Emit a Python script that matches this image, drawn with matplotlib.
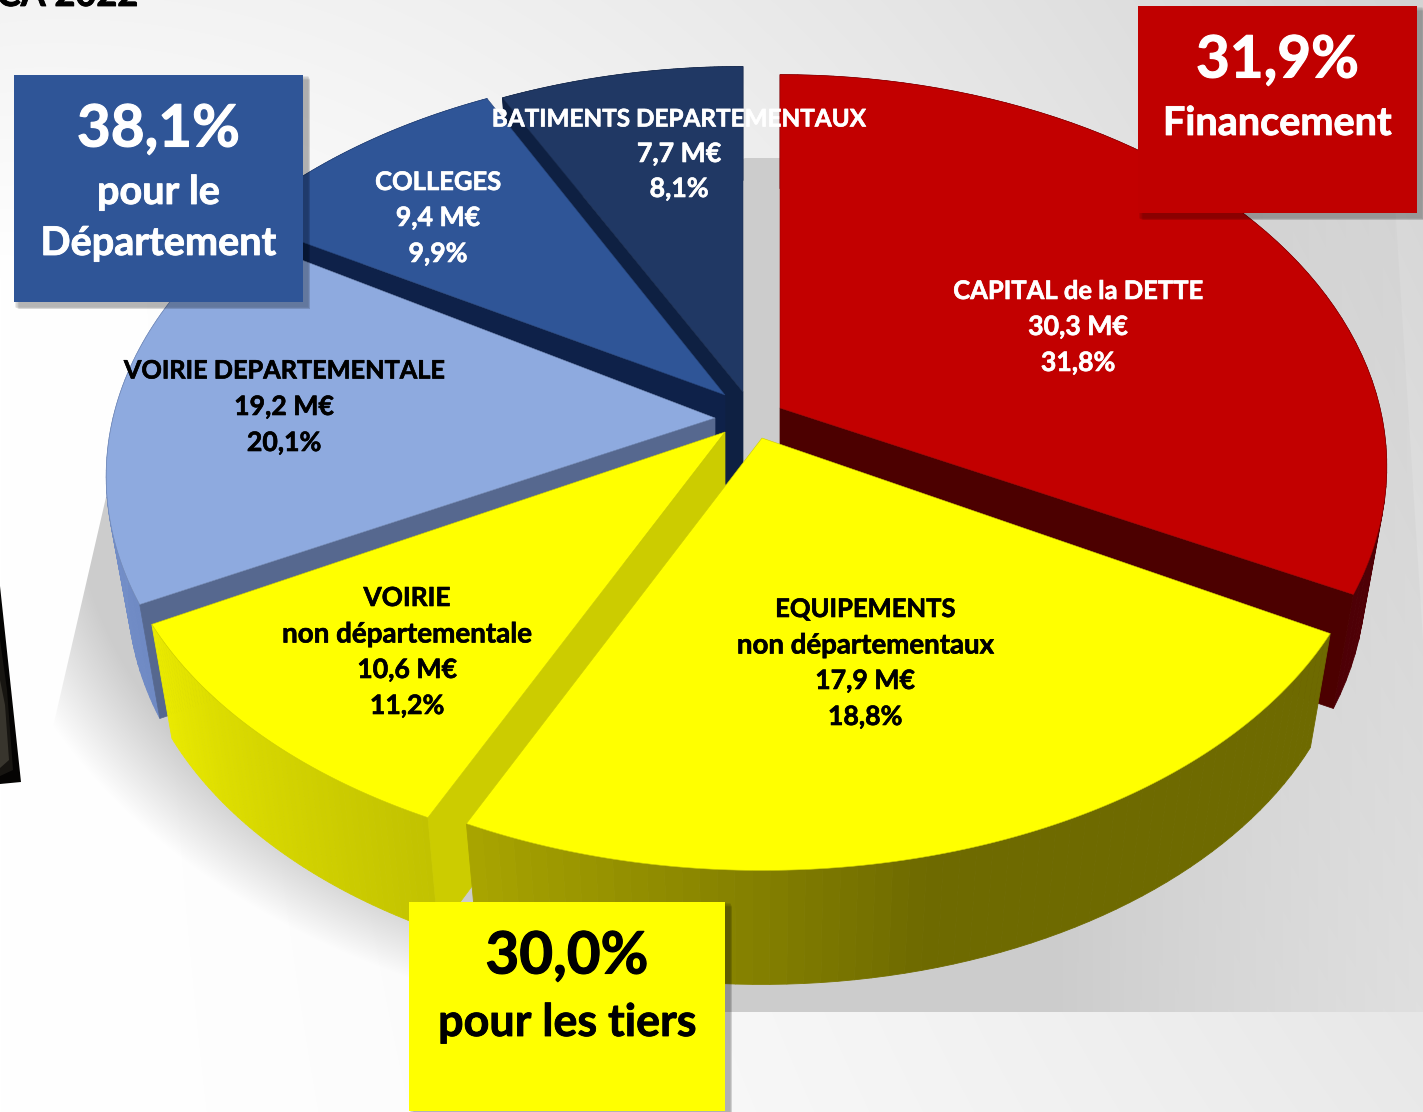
import numpy as np
import matplotlib
matplotlib.use("Agg")
import matplotlib.pyplot as plt
import matplotlib.patheffects as pe
from matplotlib.patches import Polygon, Rectangle

plt.rcParams['font.family'] = ['Lato', 'Open Sans', 'DejaVu Sans']

# ---- data ----
names = ["CAPITAL de la DETTE", "EQUIPEMENTS\nnon départementaux", "VOIRIE\nnon départementale",
         "VOIRIE DEPARTEMENTALE", "COLLEGES", "BATIMENTS DEPARTEMENTAUX"]
amounts = [30.3, 17.9, 10.6, 19.2, 9.4, 7.7]
percents = [31.8, 18.8, 11.2, 20.1, 9.9, 8.1]
# angular extent of each slice as drawn in the picture (degrees, clockwise from 12 o'clock);
# the picture's slices are not strictly proportional to the printed percentages
drawn_start = [0.0, 119.5, 205.0, 243.0, 300.0, 333.0]
drawn_end = [117.0, 205.0, 241.0, 301.0, 333.3, 360.0]
group_shares = [38.1, 31.9, 30.0]
group_names = ["pour le\nDépartement", "Financement", "pour les tiers"]
title_text = "CA 2022"

W, H = 1423, 1112
fig = plt.figure(figsize=(W / 100, H / 100), dpi=100)
ax = fig.add_axes([0, 0, 1, 1])
ax.set_axis_off()

# ---- background ----
yy, xx = np.mgrid[0:H, 0:W]
fx, fy = xx / W, yy / H
bg = 255 - 44 * fx ** 1.6 * (1 - 0.5 * fy) - 12 * (1 - fx) * np.clip(1 - fy / 0.25, 0, 1)
ax.imshow(np.dstack([bg, bg, bg]).astype(np.uint8), extent=(0, W, H, 0), aspect='auto',
          interpolation='bilinear', zorder=0)

# floor shadow of the pie
floor = Polygon([(745, 158), (1392, 158), (1423, 640), (1423, 1012), (700, 1012), (300, 1112), (0, 1112),
                 (0, 1000), (50, 740), (110, 480)],
                closed=True, transform=ax.transData)
d = ((xx - 745) / 700.0) ** 2 + ((yy - 480) / 500.0) ** 2
left_alpha = np.clip((1.22 - d) / 0.30, 0, 1)
right_alpha = np.clip(1 - (xx - 1050) / 520.0, 0.25, 1)
mix = np.clip((xx - 560) / 160.0, 0, 1)
alpha = left_alpha * (1 - mix) + right_alpha * mix
right_wedge = np.clip(1 - (xx - (1392 + (yy - 158) * 0.066)) / 12.0, 0, 1)
alpha = alpha * right_wedge
rgba = np.zeros((H, W, 4))
rgba[..., :3] = 204 / 255
rgba[..., 3] = alpha
im = ax.imshow(rgba, extent=(0, W, H, 0), aspect='auto', interpolation='bilinear', zorder=0.5)
im.set_clip_path(floor)

# object cut by the left edge of the slide
ax.add_patch(Polygon([(0, 586), (21, 782), (0, 784)], closed=True, fc='#050403', ec='none', zorder=0.6))
ax.add_patch(Polygon([(0, 640), (7, 690), (13, 770), (0, 776)], closed=True, fc='#3a362e', ec='none',
                     alpha=0.35, zorder=0.6))
ax.add_patch(Polygon([(0, 680), (5, 705), (9, 760), (0, 768)], closed=True, fc='#5a554a', ec='none',
                     alpha=0.5, zorder=0.6))

# ---- pie geometry ----
K = 0.149
DEPTH = 114
SHRINK = 0.035
apex = [(780, 408), (762, 438), (725, 432), (715, 418), (725, 395), (743, 392)]
radx = [600, 605, 608, 602, 600, 600]
rady = [383, 368, 368, 383, 376, 374]
top_colors = ['#c20000', '#ffff00', '#ffff00', '#8eaadf', '#2f5597', '#203864']
cut_colors = ['#4c0000', '#cccc00', '#cccc00', '#56688f', '#0e2149', '#0e2042']
wall_ramps = [('#6a0008', '#4e0006'), ('#6e6a00', '#a8a400'), ('#c2c200', '#eaea00'),
              ('#6f8ac4', '#7d98cf'), ('#243f73', '#243f73'), ('#182b4f', '#182b4f')]


def proj(i, deg, level):
    t = np.radians(deg)
    u, v = np.sin(t), np.cos(t)
    s = 1 / (1 + K * v)
    sc = 1 - SHRINK * level
    return apex[i][0] + radx[i] * sc * u * s, apex[i][1] + DEPTH * level - rady[i] * v * s


def lerp(c1, c2, f):
    a, b = np.array(matplotlib.colors.to_rgb(c1)), np.array(matplotlib.colors.to_rgb(c2))
    return a + (b - a) * f


def apex_at(i, level):
    return apex[i][0], apex[i][1] + DEPTH * level


def draw_slice(i):
    a0, a1 = drawn_start[i], drawn_end[i]
    # outer wall as shaded strips
    th = np.linspace(a0, a1, 61)
    for j in range(60):
        poly = [proj(i, th[j], 0), proj(i, th[j + 1], 0), proj(i, th[j + 1], 1), proj(i, th[j], 1)]
        f = j / 59
        if i == 1:   # olive most of the way, brighter at its left end
            f = np.clip((f - 0.55) / 0.45, 0, 1)
        c = lerp(wall_ramps[i][0], wall_ramps[i][1], f)
        ax.add_patch(Polygon(poly, closed=True, fc=c, ec=c, lw=0.6, zorder=1))
    # radial face seen by the camera
    if i != 1:
        ang = a1 if i == 0 else a0
        face = [apex_at(i, 0), proj(i, ang, 0), proj(i, ang, 1), apex_at(i, 1)]
        ax.add_patch(Polygon(face, closed=True, fc=cut_colors[i], ec=cut_colors[i], lw=0.5, zorder=1))
    # top
    th2 = np.linspace(a0, a1, 120)
    pts = [apex_at(i, 0)] + [proj(i, a, 0) for a in th2]
    ax.add_patch(Polygon(pts, closed=True, fc=top_colors[i], ec=lerp(top_colors[i], '#000000', 0.2),
                         lw=0.4, zorder=1))


for i in [5, 4, 3, 0, 2, 1]:
    draw_slice(i)

# ---- slice labels ----
label_colors = ['white', 'black', 'black', 'black', 'white', 'white']
label_x = [1078, 865, 407, 284, 438, 679]
label_y0 = [289, 607, 596, 369, 180, 117]
line_step = [36, 36, 36, 36, 36, 35]
# font size per line kind: all caps runs a little wide in the substitute font
name_sizes = {"CAPITAL de la DETTE": 18.4, "EQUIPEMENTS": 18.4, "non départementaux": 19.9, "VOIRIE": 18.9,
              "non départementale": 20.0, "VOIRIE DEPARTEMENTALE": 18.2, "COLLEGES": 18.4,
              "BATIMENTS DEPARTEMENTAUX": 17.5}
stroke = 0.45
for i in range(6):
    lines = names[i].split("\n") + [f"{amounts[i]:.1f} M€".replace('.', ','), f"{percents[i]:.1f}%".replace('.', ',')]
    for n, line in enumerate(lines):
        size = name_sizes.get(line, 19.2)
        ax.text(label_x[i], label_y0[i] + n * line_step[i], line, ha='center', va='center_baseline',
                color=label_colors[i], fontsize=size, fontweight='bold', zorder=5,
                path_effects=[pe.withStroke(linewidth=stroke, foreground=label_colors[i])])

# ---- group boxes ----
boxes = [(14, 75, 289, 227, '#2f5597', 'white', 125, [189, 240], 28.5),
         (1138, 6, 279, 207, '#c00000', 'white', 56, [120], 28.5),
         (409, 902, 316, 209, '#ffff00', 'black', 952, [1019], 32.3)]
for k, (x, y, w, h, fc, tc, y1, ys, fs) in enumerate(boxes):
    for o in range(1, 9):
        ax.add_patch(Rectangle((x + o * 0.6, y + o * 0.6), w + 5 - o * 0.3, h + 5 - o * 0.3,
                               fc='black', ec='none', alpha=0.04, zorder=6))
    ax.add_patch(Rectangle((x, y), w, h, fc=fc, ec='none', zorder=7))
    cx = x + w / 2
    ax.text(cx, y1, f"{group_shares[k]:.1f}%".replace('.', ','), ha='center', va='center_baseline', color=tc,
            fontsize=42, fontweight='bold', zorder=8,
            path_effects=[pe.withStroke(linewidth=0.8, foreground=tc)])
    for yline, line in zip(ys, group_names[k].split("\n")):
        ax.text(cx, yline, line, ha='center', va='center_baseline', color=tc, fontsize=fs, fontweight='bold', zorder=8,
                path_effects=[pe.withStroke(linewidth=0.6, foreground=tc)])

ax.text(138, 6, title_text, ha='right', va='baseline', color='black', fontsize=26, fontweight='bold', zorder=8,
        path_effects=[pe.withStroke(linewidth=0.6, foreground='black')])

ax.set_xlim(0, W)
ax.set_ylim(H, 0)
fig.savefig('out.png', dpi=100)
